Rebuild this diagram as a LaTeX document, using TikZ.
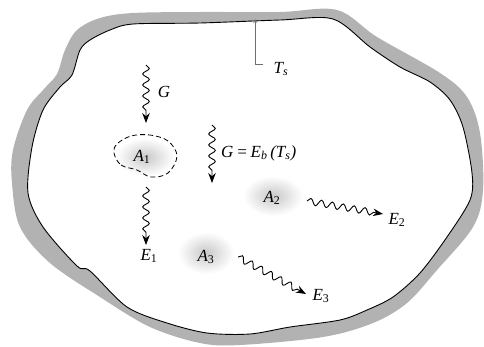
\documentclass[tikz,border=0pt]{standalone}
\usepackage{fontspec}
\setmainfont{Liberation Serif}
\usetikzlibrary{decorations.pathmorphing,arrows.meta}
\definecolor{band}{RGB}{178,178,178}
\definecolor{blob}{RGB}{200,200,200}
\definecolor{tsgray}{RGB}{110,110,110}
\newcommand\mysub[1]{\textsubscript{#1}}
\newcommand\mysubup[1]{\textsubscript{\upshape #1}}
\begin{document}
\begin{tikzpicture}[x=1pt,y=-1pt,
  wave/.style={decorate,decoration={snake,amplitude=3.3pt,segment length=11pt,post length=9pt},
    line width=0.9pt,-{Stealth[length=10pt,width=7.5pt]}},
  lbl/.style={font=\fontsize{17}{20}\selectfont\itshape, inner sep=0pt},
  blobshade/.style={inner color=blob, outer color=white}]
\useasboundingbox (0,0) rectangle (484,346);
\fill[white] (0,0) rectangle (484,346);
% outer gray band
\fill[band] plot[smooth cycle, tension=0.55] coordinates {
 (77,30) (100,18) (133,13) (200,12) (280,12) (337,10) (377,37) (440,73) (467,97) (480,133)
 (483,190) (473,227) (437,270) (407,303) (373,323) (323,337) (240,345) (200,343) (150,327)
 (100,297) (50,263) (20,227) (12,183) (13,150) (27,110) (44,89) (57,74) (65,50)};
% inner white + black line
\draw[fill=white, line width=0.9pt] plot[smooth cycle, tension=0.5] coordinates {
 (90,40) (110,30) (133,24) (200,23) (280,20) (333,19) (370,47) (400,67) (430,82) (450,100)
 (463,127) (472,173) (470,200) (447,237) (420,273) (393,297) (367,310) (340,320) (290,327)
 (250,334) (207,333) (167,323) (127,307) (90,271) (77,266) (43,227) (28,193) (32,147)
 (43,110) (60,87) (72,75) (80,50)};
% blobs
\shade[blobshade] (145,157) ellipse [x radius=29pt, y radius=19pt];
\shade[blobshade] (273,196) ellipse [x radius=30pt, y radius=20pt];
\shade[blobshade] (206,253) ellipse [x radius=28pt, y radius=21pt];
% dashed outline around A1
\draw[dashed, dash pattern=on 5pt off 3pt, line width=0.8pt] plot[smooth cycle, tension=0.6] coordinates {
 (114,153) (121,165) (137,170) (151,177) (168,173) (177,156) (168,141) (150,135) (131,136) (117,144)};
% labels
\node[lbl] (a1) at (142,157) {A\mysubup{1}};
\node[lbl] (a2) at (272,198) {A\mysubup{2}};
\node[lbl] (a3) at (206,257) {A\mysubup{3}};
\node[lbl] (g1) at (164,92) {G};
\node[lbl, anchor=west] (g2) at (221,153) {G\,=\,E\mysub{b}\,(T\mysub{s})};
\node[lbl] (e1) at (149,256) {E\mysubup{1}};
\node[lbl] (e2) at (397,220) {E\mysubup{2}};
\node[lbl] (e3) at (321,296) {E\mysubup{3}};
\node[lbl] (ts) at (281,69) {T\mysub{s}};
% coordinates for connectors
\coordinate (g1s) at (146,65);
\coordinate (g1e) at (146,123);
\coordinate (e1s) at (146,187);
\coordinate (e1e) at (146,245);
\coordinate (g2s) at (212,125);
\coordinate (g2e) at (212,183);
\coordinate (e2s) at (307,201);
\coordinate (e2e) at (383,214);
\coordinate (e3s) at (238,257);
\coordinate (e3e) at (306,294);
\coordinate (tstop) at (255,19);
\coordinate (tscorner) at (255,64);
\coordinate (tsend) at (263,64);
% wavy arrows
\draw[wave] (g1s) -- (g1e);
\draw[wave] (e1s) -- (e1e);
\draw[wave] (g2s) -- (g2e);
\draw[wave] (e2s) -- (e2e);
\draw[wave] (e3s) -- (e3e);
% Ts pointer
\draw[tsgray, line width=0.6pt, -{Stealth[length=4pt,width=3.5pt]}] (tsend) -- (tscorner) -- (tstop);
\end{tikzpicture}
\end{document}
